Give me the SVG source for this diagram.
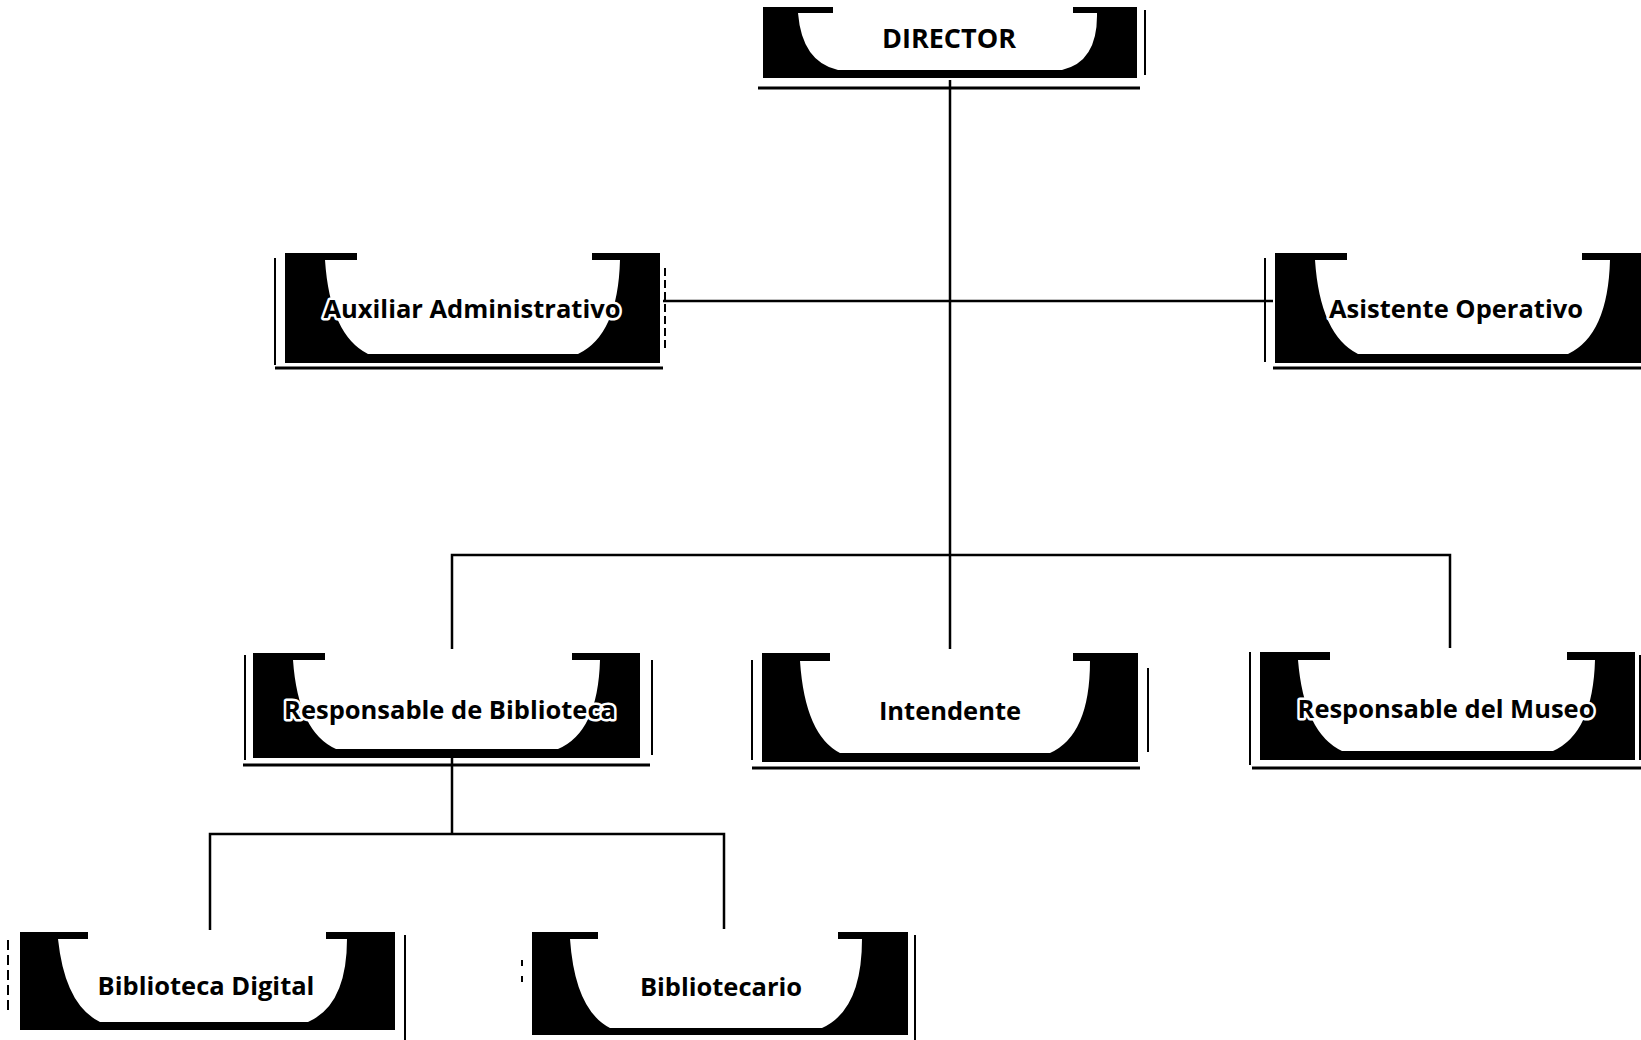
<svg xmlns="http://www.w3.org/2000/svg" width="1641" height="1040" viewBox="0 0 1641 1040">
<style>
.frame{fill:#000}
.bowl{fill:#fff}
.side{stroke:#000;stroke-width:2;fill:none}
.under{stroke:#000;stroke-width:3;fill:none}
.conn{stroke:#000;stroke-width:2.5;fill:none}
.lbl{font-family:"Open Sans","Noto Sans","Liberation Sans",sans-serif;font-weight:700;font-size:25.5px;fill:#000;text-anchor:middle;stroke:#fff;stroke-width:5;stroke-linejoin:round;paint-order:stroke}
.big{font-size:27px}
</style>
<rect width="1641" height="1040" fill="#fff"/>
<g id="connectors">
<line class="conn" x1="950" y1="80" x2="950" y2="649"/>
<line class="conn" x1="663" y1="301" x2="1273" y2="301"/>
<polyline class="conn" points="452,649 452,555 1450,555 1450,648"/>
<line class="conn" x1="452" y1="758" x2="452" y2="834"/>
<polyline class="conn" points="210,930 210,834 724,834 724,929"/>
</g>
<g id="node-director">
<rect class="frame" x="763" y="7" width="374" height="71"/>
<path class="bowl" d="M833,7 H1073 V13 H1097 Q1098,62 1062,70 H838 Q802,62 798,13 H833 Z"/>
<line class="side" x1="1145" y1="10" x2="1145" y2="75"/>
<line class="under" x1="758" y1="88" x2="1140" y2="88"/>
<text class="lbl big" x="949" y="48">DIRECTOR</text>
</g>
<g id="node-auxiliar">
<rect class="frame" x="285" y="253" width="375" height="110"/>
<path class="bowl" d="M357,253 H592 V260 H620 Q618,335 578,354 H368 Q330,335 325,260 H357 Z"/>
<line class="side" x1="275" y1="258" x2="275" y2="365"/>
<line class="side" x1="665" y1="268" x2="665" y2="352" stroke-dasharray="8 4"/>
<line class="under" x1="275" y1="368" x2="663" y2="368"/>
<text class="lbl" x="472" y="318">Auxiliar Administrativo</text>
</g>
<g id="node-asistente">
<rect class="frame" x="1275" y="253" width="375" height="110"/>
<path class="bowl" d="M1347,253 H1582 V260 H1610 Q1608,335 1568,354 H1358 Q1320,335 1315,260 H1347 Z"/>
<line class="side" x1="1265" y1="258" x2="1265" y2="362"/>
<line class="under" x1="1273" y1="368" x2="1641" y2="368"/>
<text class="lbl" x="1456" y="318">Asistente Operativo</text>
</g>
<g id="node-resp-biblioteca">
<rect class="frame" x="253" y="653" width="387" height="105"/>
<path class="bowl" d="M325,653 H572 V660 H600 Q598,732 558,749 H336 Q298,732 293,660 H325 Z"/>
<line class="side" x1="245" y1="655" x2="245" y2="760"/>
<line class="side" x1="652" y1="660" x2="652" y2="755"/>
<line class="under" x1="243" y1="765" x2="650" y2="765"/>
<text class="lbl" x="450" y="719">Responsable de Biblioteca</text>
</g>
<g id="node-intendente">
<rect class="frame" x="762" y="653" width="376" height="109"/>
<path class="bowl" d="M830,653 H1073 V661 H1090 Q1090,735 1050,753 H840 Q805,735 800,661 H830 Z"/>
<line class="side" x1="752" y1="660" x2="752" y2="760"/>
<line class="side" x1="1148" y1="668" x2="1148" y2="752"/>
<line class="under" x1="752" y1="768" x2="1140" y2="768"/>
<text class="lbl" x="950" y="720">Intendente</text>
</g>
<g id="node-museo">
<rect class="frame" x="1260" y="652" width="375" height="108"/>
<path class="bowl" d="M1330,652 H1567 V660 H1595 Q1593,733 1553,751 H1342 Q1304,733 1298,660 H1330 Z"/>
<line class="side" x1="1250" y1="652" x2="1250" y2="765"/>
<line class="side" x1="1640" y1="655" x2="1640" y2="760"/>
<line class="under" x1="1252" y1="768" x2="1641" y2="768"/>
<text class="lbl" x="1446" y="718">Responsable del Museo</text>
</g>
<g id="node-biblioteca-digital">
<rect class="frame" x="20" y="932" width="375" height="98"/>
<path class="bowl" d="M88,932 H326 V939 H347 Q347,1005 308,1022 H100 Q65,1005 58,939 H88 Z"/>
<line class="side" x1="8" y1="940" x2="8" y2="1010" stroke-dasharray="10 5"/>
<line class="side" x1="405" y1="935" x2="405" y2="1040"/>
<text class="lbl" x="206" y="995">Biblioteca Digital</text>
</g>
<g id="node-bibliotecario">
<rect class="frame" x="532" y="932" width="376" height="103"/>
<path class="bowl" d="M598,932 H838 V939 H862 Q862,1010 822,1028 H610 Q575,1010 570,939 H598 Z"/>
<line class="side" x1="522" y1="960" x2="522" y2="992" stroke-dasharray="6 10"/>
<line class="side" x1="915" y1="935" x2="915" y2="1040"/>
<text class="lbl" x="721" y="996">Bibliotecario</text>
</g>
</svg>
